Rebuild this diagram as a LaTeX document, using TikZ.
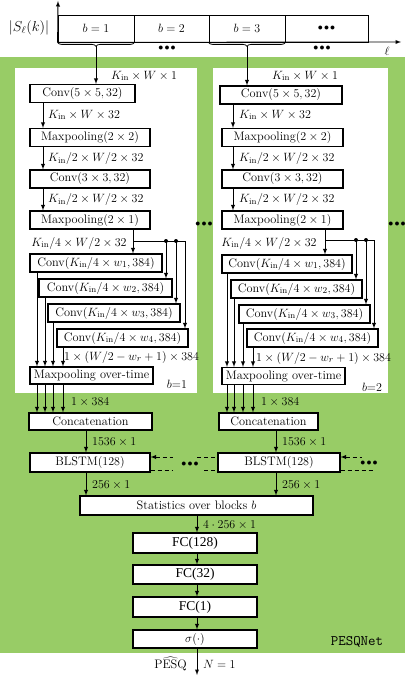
\documentclass[tikz,border=0pt]{standalone}
\usepackage{fontspec}
\newfontfamily\fcfont{Liberation Serif}
\usetikzlibrary{decorations.pathreplacing}
\definecolor{netgreen}{RGB}{152,204,102}
\newcommand{\bdots}{{\fontsize{10}{12}\selectfont$\bullet\mkern-2mu\bullet\mkern-2mu\bullet$}}
\newcommand{\Kin}{K_{\mathrm{in}}}

\begin{document}
\begin{tikzpicture}[x=1pt, y=-1pt, font=\fontsize{12.3}{14}\selectfont, >=latex]
    \useasboundingbox (0,0) rectangle (407,676);

    % Stijlen
    \tikzset{blk/.style={draw, line width=1.1pt, fill=white, inner sep=1pt, minimum height=18pt},
             cell/.style={draw, line width=0.8pt, inner sep=0pt, minimum height=27pt},
             arr/.style={->, line width=0.9pt},
             dsh/.style={line width=0.9pt, dash pattern=on 4pt off 3pt},
             lbl/.style={anchor=west, inner sep=1pt},
             jdot/.style={circle, fill, inner sep=0pt, minimum size=4pt}}

    % Achtergrond
    \fill[netgreen] (0,57) rectangle (405,653);
    \fill[white] (15,68) rectangle (197,393);
    \fill[white] (213,68) rectangle (388,393);

    % Spectrum met blokken
    \node[cell, minimum width=76] (s1) at (96,28.5) {$b = 1$};
    \node[cell, minimum width=75] (s2) at (171.5,28.5) {$b = 2$};
    \node[cell, minimum width=76] (s3) at (247,28.5) {$b = 3$};
    \node[cell, minimum width=83] (s4) at (326.5,28.5) {\bdots};
    \draw[->, line width=0.9pt] (s1.south west) -- (58,1);
    \draw[->, line width=0.9pt] (s1.south west) -- (401,42);
    \node (spec) at (29,28) {\fontsize{14}{16}\selectfont$|S_\ell(k)|$};
    \node (ell) at (387,51) {$\ell$};
    \node (sd1) at (167,48) {\bdots};
    \node (sd2) at (322,48) {\bdots};
    \draw[decorate, decoration={brace, mirror, amplitude=4pt}, line width=0.8pt] (s1.south west) -- (s1.south east);
    \draw[decorate, decoration={brace, mirror, amplitude=4pt}, line width=0.8pt] (s3.south west) -- (s3.south east);
    \coordinate (t1) at (96,46);
    \coordinate (t3) at (247,46);

    % Blok b=1
    \node[blk, minimum width=105] (convA1) at (82.5,93.5) {Conv$(5\times5,32)$};
    \node[blk, minimum width=120] (poolA1) at (90,137.5) {Maxpooling$(2\times2)$};
    \node[blk, minimum width=120] (convA2) at (90,179) {Conv$(3\times3,32)$};
    \node[blk, minimum width=120] (poolA2) at (90,220) {Maxpooling$(2\times1)$};
    \node[blk, minimum width=132] (cA1) at (96,263) {Conv$(\Kin/4\times w_1,384)$};
    \node[blk, minimum width=133] (cA2) at (105.5,288) {Conv$(\Kin/4\times w_2,384)$};
    \node[blk, minimum width=132] (cA3) at (114,313) {Conv$(\Kin/4\times w_3,384)$};
    \node[blk, minimum width=131] (cA4) at (122.5,338) {Conv$(\Kin/4\times w_4,384)$};
    \node[blk, minimum width=123, minimum height=17] (poolA3) at (91.5,375.5) {Maxpooling over-time};
    \node (blA) at (177,384) {$b{=}1$};

    \node[lbl] (dA0) at (110,76) {$\Kin\times W\times 1$};
    \node[lbl] (dA1) at (47,115) {$\Kin\times W\times 32$};
    \node[lbl] (dA2) at (47,159) {$\Kin/2\times W/2\times 32$};
    \node[lbl] (dA3) at (47,200) {$\Kin/2\times W/2\times 32$};
    \node (dA4) at (79,243) {$\Kin/4\times W/2\times 32$};
    \node[lbl] (dA5) at (63,357) {$1\times(W/2-w_r+1)\times 384$};

    \draw[arr] (t1) -- (t1 |- convA1.north);
    \foreach \a/\b in {convA1/poolA1, poolA1/convA2, convA2/poolA2}
        \draw[arr] (\a.south -| 43,0) -- (\b.north -| 43,0);
    \coordinate (jA) at (133,241);
    \coordinate (jA2) at (166,241);
    \coordinate (jA3) at (176,241);
    \coordinate (jA4) at (185,241);
    \draw[arr] (poolA2.south -| jA) -- (cA1.north -| jA);
    \draw[line width=0.9pt] (jA) -- (jA4);
    \draw[arr] (jA2) -- (jA2 |- cA2.north);
    \draw[arr] (jA3) -- (jA3 |- cA3.north);
    \draw[arr] (jA4) -- (jA4 |- cA4.north);
    \node[jdot] at (jA2) {};
    \node[jdot] at (jA3) {};
    \foreach \i/\x in {1/37, 2/45, 3/53, 4/63}
        \draw[arr] (cA\i.south -| \x,0) -- (poolA3.north -| \x,0);

    % Blok b=2
    \node[blk, minimum width=122] (convB1) at (281,95) {Conv$(5\times5,32)$};
    \node[blk, minimum width=121] (poolB1) at (282.5,137.5) {Maxpooling$(2\times2)$};
    \node[blk, minimum width=121] (convB2) at (282.5,179) {Conv$(3\times3,32)$};
    \node[blk, minimum width=121] (poolB2) at (282.5,220) {Maxpooling$(2\times1)$};
    \node[blk, minimum width=130] (cB1) at (287,264) {Conv$(\Kin/4\times w_1,384)$};
    \node[blk, minimum width=131] (cB2) at (296.5,289) {Conv$(\Kin/4\times w_2,384)$};
    \node[blk, minimum width=131] (cB3) at (304.5,314) {Conv$(\Kin/4\times w_3,384)$};
    \node[blk, minimum width=131] (cB4) at (312.5,338) {Conv$(\Kin/4\times w_4,384)$};
    \node[blk, minimum width=123, minimum height=17] (poolB3) at (283.5,376) {Maxpooling over-time};
    \node (blB) at (372,387) {$b{=}2$};

    \node[lbl] (dB0) at (271,76) {$\Kin\times W\times 1$};
    \node[lbl] (dB1) at (238,115) {$\Kin\times W\times 32$};
    \node[lbl] (dB2) at (238,159) {$\Kin/2\times W/2\times 32$};
    \node[lbl] (dB3) at (238,200) {$\Kin/2\times W/2\times 32$};
    \node (dB4) at (269,243) {$\Kin/4\times W/2\times 32$};
    \node[lbl] (dB5) at (255,358) {$1\times(W/2-w_r+1)\times 384$};

    \draw[arr] (t3) -- (t3 |- convB1.north);
    \foreach \a/\b in {convB1/poolB1, poolB1/convB2, convB2/poolB2}
        \draw[arr] (\a.south -| 233,0) -- (\b.north -| 233,0);
    \coordinate (jB) at (325,240);
    \coordinate (jB2) at (356,240);
    \coordinate (jB3) at (366,240);
    \coordinate (jB4) at (374,240);
    \draw[arr] (poolB2.south -| jB) -- (cB1.north -| jB);
    \draw[line width=0.9pt] (jB) -- (jB4);
    \draw[arr] (jB2) -- (jB2 |- cB2.north);
    \draw[arr] (jB3) -- (jB3 |- cB3.north);
    \draw[arr] (jB4) -- (jB4 |- cB4.north);
    \node[jdot] at (jB2) {};
    \node[jdot] at (jB3) {};
    \foreach \i/\x in {1/227, 2/234, 3/243, 4/253}
        \draw[arr] (cB\i.south -| \x,0) -- (poolB3.north -| \x,0);

    % Puntjes tussen blokken
    \node (pd1) at (204,224) {\bdots};
    \node (pd2) at (397,224) {\bdots};

    % Samenvoegen en BLSTM
    \node[blk, minimum width=123, minimum height=17] (catA) at (90.5,421.5) {Concatenation};
    \node[blk, minimum width=99, minimum height=17] (catB) at (268.5,421.5) {Concatenation};
    \node[blk, minimum width=120, minimum height=19] (lstmA) at (90,462.5) {BLSTM$(128)$};
    \node[blk, minimum width=122, minimum height=19] (lstmB) at (279,462.5) {BLSTM$(128)$};
    \node[blk, minimum width=233, minimum height=19] (stats) at (196.5,505.5) {Statistics over blocks $b$};

    \foreach \x in {37, 45, 53, 63}
        \draw[arr] (poolA3.south -| \x,0) -- (catA.north -| \x,0);
    \foreach \x in {227, 234, 243, 253}
        \draw[arr] (poolB3.south -| \x,0) -- (catB.north -| \x,0);
    \node[lbl] (eA0) at (70,402) {$1\times 384$};
    \node[lbl] (eB0) at (260,402) {$1\times 384$};

    \draw[arr] (catA.south -| 86,0) -- (lstmA.north -| 86,0);
    \draw[arr] (lstmA.south -| 86,0) -- (stats.north -| 86,0);
    \draw[arr] (catB.south -| 276,0) -- (lstmB.north -| 276,0);
    \draw[arr] (lstmB.south -| 276,0) -- (stats.north -| 276,0);
    \node[lbl] (eA1) at (91,442) {$1536\times 1$};
    \node[lbl] (eA2) at (91,485) {$256\times 1$};
    \node[lbl] (eB1) at (281,442) {$1536\times 1$};
    \node[lbl] (eB2) at (281,485) {$256\times 1$};

    \draw[dsh, <-] (lstmA.east |- 0,457) -- (173,457);
    \draw[dsh] (lstmA.east |- 0,470) -- (173,470);
    \node (ld1) at (190,464) {\bdots};
    \draw[dsh] (197,457) -- (lstmB.west |- 0,457);
    \draw[dsh] (204,470) -- (lstmB.west |- 0,470);
    \draw[dsh, <-] (lstmB.east |- 0,457) -- (362,457);
    \draw[dsh] (lstmB.east |- 0,470) -- (373,470);
    \node (ld2) at (369,463) {\bdots};

    % Volledig verbonden lagen
    \node[blk, minimum width=124, minimum height=20] (fc1) at (195,543) {\fcfont\fontsize{13.5}{16}\selectfont FC(128)};
    \node[blk, minimum width=124, minimum height=19] (fc2) at (195,574.5) {\fcfont\fontsize{13.5}{16}\selectfont FC(32)};
    \node[blk, minimum width=124, minimum height=20] (fc3) at (195,607) {\fcfont\fontsize{13.5}{16}\selectfont FC(1)};
    \node[blk, minimum width=124, minimum height=18] (sig) at (195,639) {$\sigma(\cdot)$};
    \draw[arr] (stats.south -| 197,0) -- (fc1.north -| 197,0);
    \node[lbl] (e4) at (202,525) {$4\cdot 256\times 1$};
    \foreach \a/\b in {fc1/fc2, fc2/fc3, fc3/sig}
        \draw[arr] (\a.south -| 197,0) -- (\b.north -| 197,0);
    \coordinate (out) at (197,675);
    \draw[arr] (sig.south -| out) -- (out);
    \node[anchor=east, inner sep=1pt] (pesq) at (188,664) {$\widehat{\mathrm{PESQ}}$};
    \node[lbl] (nout) at (202,664) {$N = 1$};
    \node (net) at (357,642) {\ttfamily\fontsize{14.5}{16}\selectfont PESQNet};
\end{tikzpicture}
\end{document}
